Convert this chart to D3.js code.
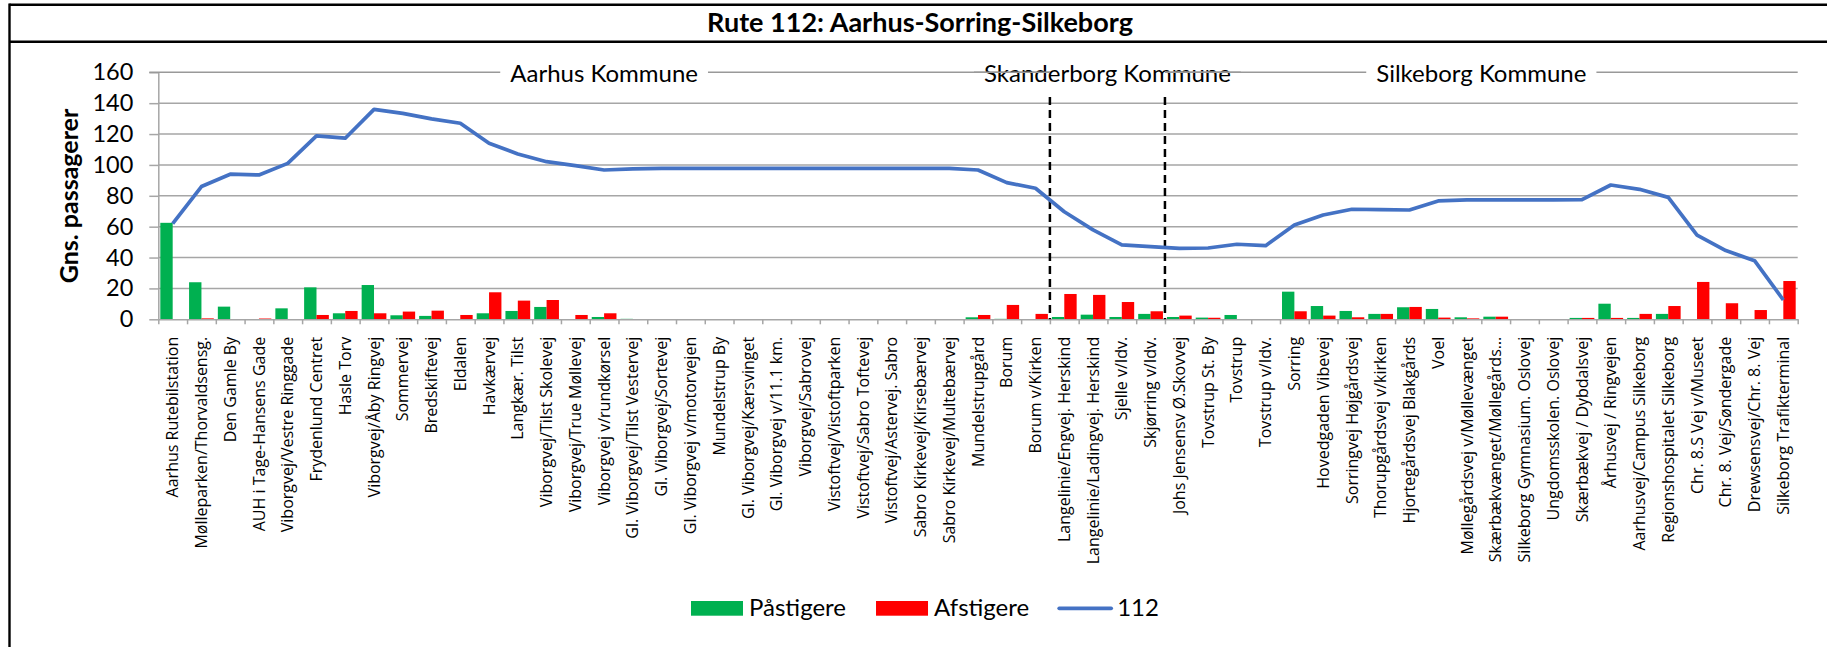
<!DOCTYPE html>
<html>
<head>
<meta charset="utf-8">
<script src="https://cdn.jsdelivr.net/npm/d3@7/dist/d3.min.js"></script>
<style>
  body { margin: 0; background: #fff; }
  svg text { font-family: Lato, "Open Sans", sans-serif; fill: #000; }
  .cat text { font-family: "Open Sans", sans-serif; }
</style>
</head>
<body>
<div id="chart"></div>
<script>
// stops along route 112
const stops = [
  "Aarhus Rutebilstation", "Mølleparken/Thorvaldsensg.", "Den Gamle By", "AUH i Tage-Hansens Gade",
  "Viborgvej/Vestre Ringgade", "Frydenlund Centret", "Hasle Torv", "Viborgvej/Åby Ringvej",
  "Sommervej", "Bredskiftevej", "Eldalen", "Havkærvej", "Langkær. Tilst",
  "Viborgvej/Tilst Skolevej", "Viborgvej/True Møllevej", "Viborgvej v/rundkørsel",
  "Gl. Viborgvej/Tilst Vestervej", "Gl. Viborgvej/Sortevej", "Gl. Viborgvej v/motorvejen",
  "Mundelstrup By", "Gl. Viborgvej/Kærsvinget", "Gl. Viborgvej v/11.1 km.", "Viborgvej/Sabrovej",
  "Vistoftvej/Vistoftparken", "Vistoftvej/Sabro Toftevej", "Vistoftvej/Astervej. Sabro",
  "Sabro Kirkevej/Kirsebærvej", "Sabro Kirkevej/Multebærvej", "Mundelstrupgård", "Borum",
  "Borum v/Kirken", "Langelinie/Engvej. Herskind", "Langelinie/Ladingvej. Herskind",
  "Sjelle v/Idv.", "Skjørring v/Idv.", "Johs Jensensv Ø.Skovvej", "Tovstrup St. By", "Tovstrup",
  "Tovstrup v/Idv.", "Sorring", "Hovedgaden Vibevej", "Sorringvej Højgårdsvej",
  "Thorupgårdsvej v/kirken", "Hjortegårdsvej Blakgårds", "Voel", "Møllegårdsvej v/Møllevænget",
  "Skærbækvænget/Møllegårds…", "Silkeborg Gymnasium. Oslovej", "Ungdomsskolen. Oslovej",
  "Skærbækvej / Dybdalsvej", "Århusvej / Ringvejen", "Aarhusvej/Campus Silkeborg",
  "Regionshospitalet Silkeborg", "Chr. 8.S Vej v/Museet", "Chr. 8. Vej/Søndergade",
  "Drewsensvej/Chr. 8. Vej", "Silkeborg Trafikterminal"
];

// Påstigere (boarding)
const boarding = [
  62.5, 24, 8.2, 0, 7.1, 20.7, 3.9, 22.2, 2.6, 2.2, 0, 3.9, 5.4, 8, 0, 1.5,
  0.3, 0, 0, 0, 0, 0, 0, 0, 0, 0, 0, 0, 1.3, 0.3, 0,
  1.5, 3, 1.5, 3.5,
  1.5, 1.1, 2.8, 0, 17.9, 8.6, 5.4, 3.5, 7.8, 6.7, 1.3, 1.7, 0, 0, 0.9, 10.1, 0.9, 3.5, 0, 0, 0, 0
];

// Afstigere (alighting)
const alighting = [
  0, 0.6, 0, 0.5, 0, 2.8, 5.4, 3.9, 5, 5.6, 2.8, 17.5, 12.1, 12.5, 2.8, 3.9,
  0, 0, 0, 0, 0, 0, 0, 0, 0, 0, 0, 0, 2.8, 9.3, 3.5,
  16.4, 15.8, 11.2, 5.2,
  2.4, 1, 0, 0, 5.2, 2.4, 1.3, 3.5, 8, 1.1, 0.6, 1.7, 0, 0, 0.9, 0.9, 3.5, 8.6, 24.2, 10.4, 6, 24.8
];

// 112: passengers on board
const load112 = [
  62, 86, 94, 93.5, 101, 118.8, 117.3, 136, 133.4, 129.8, 127, 114, 107.1, 102.1, 99.5, 96.7,
  97.5, 97.8, 97.8, 97.8, 97.8, 97.8, 97.8, 97.8, 97.8, 97.8, 97.8, 97.8, 96.7, 88.5, 84.9,
  69.7, 57.9, 48.2, 47.1,
  46, 46.2, 48.6, 47.7, 61.1, 67.6, 71.3, 71, 70.8, 76.7, 77.3, 77.3, 77.3, 77.3, 77.5,
  87, 84.2, 79, 54.6, 44.5, 38, 12.5
];

const yTicks = [0, 20, 40, 60, 80, 100, 120, 140, 160];

// municipalities: name, first stop, last stop
const kommuneNames = ["Aarhus Kommune", "Skanderborg Kommune", "Silkeborg Kommune"];
const kommuneFirst = ["Aarhus Rutebilstation", "Langelinie/Engvej. Herskind", "Johs Jensensv Ø.Skovvej"];
const kommuneLast = ["Borum v/Kirken", "Skjørring v/Idv.", "Silkeborg Trafikterminal"];
const dividerTop = 144;

const seriesNames = ["Påstigere", "Afstigere", "112"];
const colors = { on: "#00B050", off: "#FF0000", line: "#4472C4" };

const W = 1827, H = 647;
const plotLeft = 158.3, plotRight = 1797.7, plotTop = 72.3, plotBottom = 319.3;

const svg = d3.select("#chart").append("svg")
  .attr("width", W).attr("height", H)
  .style("background", "#fff");

// outer frame / title band
svg.append("line").attr("x1", 9.5).attr("x2", W).attr("y1", 4.7).attr("y2", 4.7)
  .attr("stroke", "#000").attr("stroke-width", 2.4);
svg.append("line").attr("x1", 9.5).attr("x2", W).attr("y1", 41.7).attr("y2", 41.7)
  .attr("stroke", "#000").attr("stroke-width", 2.4);
svg.append("line").attr("x1", 9.5).attr("x2", 9.5).attr("y1", 3.5).attr("y2", H)
  .attr("stroke", "#000").attr("stroke-width", 2.4);

svg.append("text")
  .attr("x", 920).attr("y", 31.5)
  .attr("text-anchor", "middle")
  .style("font-weight", "bold").style("font-size", "27px")
  .text("Rute 112: Aarhus-Sorring-Silkeborg");

let x0 = d3.scaleBand().domain(stops).range([plotLeft, plotRight]).paddingInner(0.14).paddingOuter(0.07);
let x1 = d3.scaleBand().domain(["on", "off"]).range([0, x0.bandwidth()]);
let y = d3.scaleLinear().domain([0, 160]).range([plotBottom, plotTop]);
let gap = x0.step() * x0.paddingInner() / 2;

// gridlines (160 is drawn with the municipality header)
svg.append("g").selectAll("line")
  .data(yTicks.filter(d => d > 0 && d < 160))
  .enter().append("line")
  .attr("x1", plotLeft).attr("x2", plotRight)
  .attr("y1", d => y(d)).attr("y2", d => y(d))
  .attr("stroke", "#a6a6a6").attr("stroke-width", 1.5);

// y axis
let yAxis = d3.axisLeft(y).tickValues(yTicks).tickSize(9).tickSizeOuter(0).tickPadding(16);
let yg = svg.append("g").attr("transform", "translate(" + plotLeft + ",0)").call(yAxis);
yg.select(".domain").attr("stroke", "#a6a6a6").attr("stroke-width", 1.5);
yg.selectAll(".tick line").attr("stroke", "#a6a6a6").attr("stroke-width", 1.5);
yg.selectAll(".tick text").style("font-size", "23.5px").style("font-family", "Lato, sans-serif");

svg.append("text")
  .attr("transform", "translate(69,196) rotate(-90)")
  .attr("text-anchor", "middle").attr("dy", "0.35em")
  .style("font-weight", "bold").style("font-size", "25px")
  .text("Gns. passagerer");

// municipality header on the 160 line
let kg = svg.append("g");
kommuneNames.forEach(function (name, i) {
  let a = x0(kommuneFirst[i]) - gap, b = x0(kommuneLast[i]) + x0.bandwidth() + gap;
  let t = kg.append("text").attr("x", (a + b) / 2).attr("y", y(160) + 9.5)
    .attr("text-anchor", "middle").style("font-size", "24px").text(name);
  let w = t.node().getComputedTextLength();
  let lx1 = i === 0 ? plotLeft - 9 : a, lx2 = (a + b) / 2 - w / 2 - 10;
  kg.append("line").attr("x1", lx1).attr("x2", lx2).attr("y1", y(160)).attr("y2", y(160))
    .attr("stroke", "#999").attr("stroke-width", 1.5);
  kg.append("line").attr("x1", (a + b) / 2 + w / 2 + 10).attr("x2", b).attr("y1", y(160)).attr("y2", y(160))
    .attr("stroke", "#999").attr("stroke-width", 1.5);
});

// bars
let groups = svg.append("g").selectAll("g")
  .data(stops).enter().append("g")
  .attr("transform", d => "translate(" + x0(d) + ",0)");
groups.append("rect")
  .attr("x", x1("on")).attr("width", x1.bandwidth())
  .attr("y", (d, i) => y(boarding[i])).attr("height", (d, i) => y(0) - y(boarding[i]))
  .attr("fill", colors.on);
groups.append("rect")
  .attr("x", x1("off")).attr("width", x1.bandwidth())
  .attr("y", (d, i) => y(alighting[i])).attr("height", (d, i) => y(0) - y(alighting[i]))
  .attr("fill", colors.off);

// x axis: ticks on category boundaries
let xi = d3.scaleLinear().domain([0, stops.length]).range([plotLeft, plotRight]);
let xb = svg.append("g").attr("transform", "translate(0," + plotBottom + ")")
  .call(d3.axisBottom(xi).tickValues(d3.range(stops.length + 1)).tickFormat("").tickSize(5).tickSizeOuter(0));
xb.select(".domain").attr("stroke", "#a6a6a6").attr("stroke-width", 1.5);
xb.selectAll(".tick line").attr("stroke", "#a6a6a6").attr("stroke-width", 1.5);

let xl = svg.append("g").attr("class", "cat").attr("transform", "translate(0," + plotBottom + ")")
  .call(d3.axisBottom(x0).tickSize(0));
xl.select(".domain").remove();
xl.selectAll(".tick text")
  .attr("transform", "rotate(-90)")
  .attr("text-anchor", "end")
  .attr("x", -17.5).attr("y", 0).attr("dy", "0.35em")
  .style("font-size", "16px");

// municipality dividers
svg.append("g").selectAll("line")
  .data(kommuneFirst.slice(1))
  .enter().append("line")
  .attr("x1", d => x0(d) - gap).attr("x2", d => x0(d) - gap)
  .attr("y1", y(dividerTop)).attr("y2", y(0))
  .attr("stroke", "#000").attr("stroke-width", 2.5).attr("stroke-dasharray", "8,5");

// 112 line
let line = d3.line()
  .x((d, i) => x0(stops[i]) + x0.bandwidth() / 2)
  .y(d => y(d));
svg.append("path").datum(load112)
  .attr("d", line).attr("fill", "none")
  .attr("stroke", colors.line).attr("stroke-width", 3.7)
  .attr("stroke-linejoin", "round");

// legend
let lg = svg.append("g").style("font-size", "24px");
let lx = 691, ly = 616;
seriesNames.forEach(function (name, i) {
  if (i < 2) {
    lg.append("rect").attr("x", lx).attr("y", ly - 15).attr("width", 52).attr("height", 14.7)
      .attr("fill", i === 0 ? colors.on : colors.off);
  } else {
    lg.append("line").attr("x1", lx).attr("x2", lx + 52).attr("y1", ly - 7.7).attr("y2", ly - 7.7)
      .attr("stroke", colors.line).attr("stroke-width", 3.7).attr("stroke-linecap", "round");
  }
  let t = lg.append("text").attr("x", lx + 58).attr("y", ly).text(name);
  lx += 58 + t.node().getComputedTextLength() + 30;
});
</script>
</body>
</html>
